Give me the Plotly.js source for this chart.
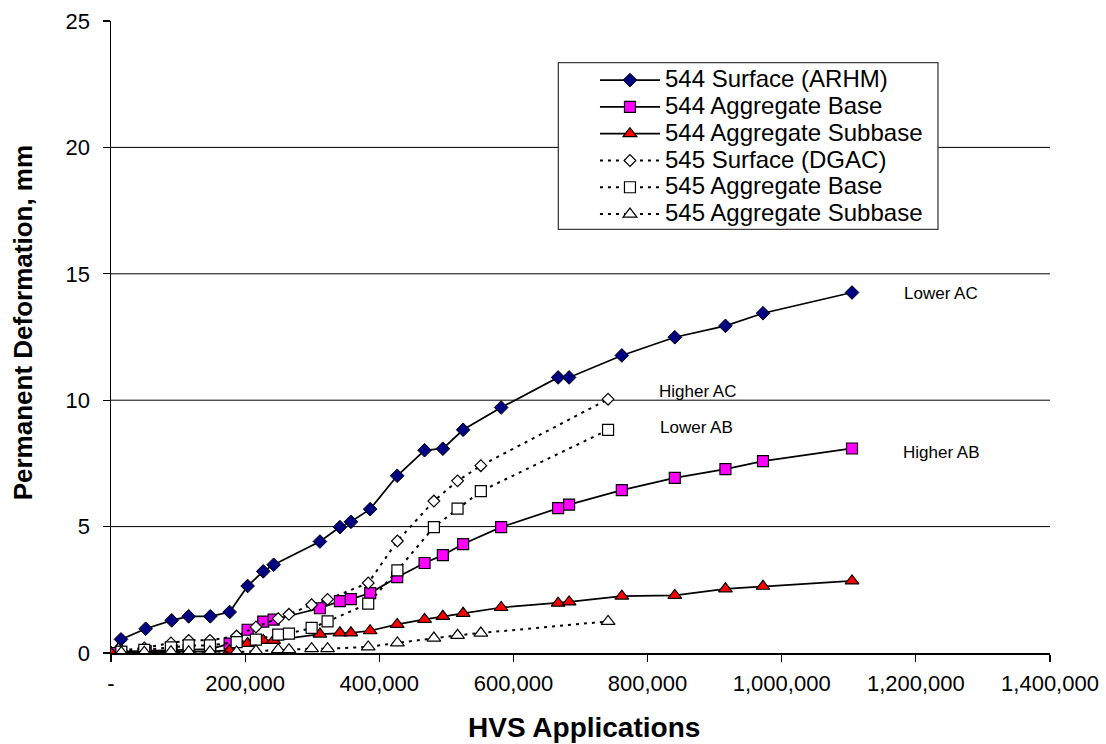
<!DOCTYPE html>
<html>
<head>
<meta charset="utf-8">
<script src="https://cdn.plot.ly/plotly-3.0.1.min.js"></script>
<style>html,body{margin:0;padding:0;background:#fff;}#chart{width:1106px;height:744px;}</style>
</head>
<body>
<div id="chart"></div>
<script>
// HVS applications (x) and permanent deformation, mm (y)
var x544 = [0, 14900, 51700, 90500, 115800, 148000, 176900, 203700, 227000, 242500, 311500, 341300, 357700, 386400, 426700, 467500, 494800, 525000, 581700, 666600, 683000, 761600, 840600, 916100, 972100, 1104800];
var surf544 = [0, 0.54, 0.96, 1.29, 1.45, 1.45, 1.62, 2.65, 3.23, 3.49, 4.41, 4.98, 5.19, 5.69, 7.01, 8.02, 8.08, 8.83, 9.71, 10.90, 10.90, 11.77, 12.49, 12.94, 13.44, 14.26];
var base544 = [0, 0.05, 0.08, 0.10, 0.12, 0.15, 0.37, 0.92, 1.24, 1.32, 1.77, 2.05, 2.13, 2.37, 3.00, 3.56, 3.87, 4.31, 4.98, 5.73, 5.87, 6.44, 6.93, 7.27, 7.59, 8.09];
var sub544 = [0, 0.02, 0.03, 0.04, 0.05, 0.06, 0.10, 0.38, 0.50, 0.50, 0.75, 0.80, 0.80, 0.88, 1.13, 1.33, 1.45, 1.57, 1.80, 1.97, 2.02, 2.25, 2.28, 2.54, 2.64, 2.85];

var x545 = [15400, 49600, 89400, 115800, 147500, 187300, 216100, 249300, 265300, 299100, 322900, 383500, 427000, 481400, 516700, 551400, 741100];
var surf545 = [0.10, 0.20, 0.40, 0.50, 0.50, 0.67, 1.03, 1.36, 1.53, 1.91, 2.12, 2.77, 4.43, 6.01, 6.81, 7.41, 10.04];
var base545 = [0.05, 0.12, 0.22, 0.30, 0.30, 0.43, 0.53, 0.73, 0.77, 0.99, 1.25, 1.95, 3.27, 4.98, 5.71, 6.40, 8.83];
var sub545 = [0.02, 0.03, 0.05, 0.05, 0.05, 0.04, 0.08, 0.13, 0.13, 0.17, 0.17, 0.24, 0.40, 0.59, 0.70, 0.79, 1.25];

var seriesNames = ["544 Surface (ARHM)", "544 Aggregate Base", "544 Aggregate Subbase", "545 Surface (DGAC)", "545 Aggregate Base", "545 Aggregate Subbase"];

var xTickVals = [0, 200000, 400000, 600000, 800000, 1000000, 1200000, 1400000];
var xTickText = ["-", "200,000", "400,000", "600,000", "800,000", "1,000,000", "1,200,000", "1,400,000"];
var yTickVals = [0, 5, 10, 15, 20, 25];
var gridVals = [5, 10, 15, 20];

var xTitle = "HVS Applications";
var yTitle = "Permanent Deformation, mm";

var noteText = ["Lower AC", "Higher AC", "Lower AB", "Higher AB"];
var noteX = [1237000, 874800, 873300, 1238000];
var noteY = [14.22, 10.36, 8.93, 7.94];

var FONT = "Arial, 'Liberation Sans', sans-serif";
var solid = {color: "#000", width: 1.75};
var dotted = {color: "#000", width: 2, dash: "3px,5px"};

function legendName(s) { return '<span style="font-size:24px">' + s + '</span>'; }

var traces = [
  {x: x544, y: surf544, name: legendName(seriesNames[0]), mode: "lines+markers", line: solid,
   marker: {symbol: "diamond", size: 10.5, color: "#000080", line: {color: "#000", width: 1}}},
  {x: x544, y: base544, name: legendName(seriesNames[1]), mode: "lines+markers", line: solid,
   marker: {symbol: "square", size: 11, color: "#FF00FF", line: {color: "#000", width: 1.2}}},
  {x: x544, y: sub544, name: legendName(seriesNames[2]), mode: "lines+markers", line: solid,
   marker: {symbol: "triangle-up", size: 12, color: "#FF0000", line: {color: "#000", width: 1.2}}},
  {x: x545, y: surf545, name: legendName(seriesNames[3]), mode: "lines+markers", line: dotted,
   marker: {symbol: "diamond", size: 9, color: "#FFFFFF", line: {color: "#000", width: 1.2}}},
  {x: x545, y: base545, name: legendName(seriesNames[4]), mode: "lines+markers", line: dotted,
   marker: {symbol: "square", size: 11, color: "#FFFFFF", line: {color: "#000", width: 1.2}}},
  {x: x545, y: sub545, name: legendName(seriesNames[5]), mode: "lines+markers", line: dotted,
   marker: {symbol: "triangle-up", size: 12, color: "#FFFFFF", line: {color: "#000", width: 1.2}}}
];

var shapes = gridVals.map(function(v){
  return {type: "line", xref: "paper", yref: "y", x0: 0, x1: 1, y0: v, y1: v, line: {color: "#000", width: 1}, layer: "below"};
});
// legend frame
shapes.push({type: "rect", xref: "paper", yref: "paper", x0: 0.4764, x1: 0.8807, y0: 0.6704, y1: 0.9342,
             line: {color: "#404040", width: 1.3}, fillcolor: "#fff", layer: "below"});

var annotations = noteText.map(function(t, i){
  return {x: noteX[i], y: noteY[i], xref: "x", yref: "y", text: t, showarrow: false,
          font: {family: FONT, size: 17, color: "#000"}, xanchor: "center", yanchor: "middle"};
});
annotations.push({x: 0.5037, y: -0.1184, xref: "paper", yref: "paper", text: "<b>" + xTitle + "</b>", showarrow: false,
                  font: {family: FONT, size: 28, color: "#000"}, xanchor: "center", yanchor: "middle"});
annotations.push({x: -0.0937, y: 0.5217, xref: "paper", yref: "paper", text: "<b>" + yTitle + "</b>", showarrow: false,
                  textangle: -90, font: {family: FONT, size: 26, color: "#000"}, xanchor: "center", yanchor: "middle"});

var layout = {
  width: 1106, height: 744,
  paper_bgcolor: "#fff", plot_bgcolor: "#fff",
  margin: {l: 111, r: 56, t: 21, b: 91},
  font: {family: FONT, color: "#000"},
  showlegend: true,
  legend: {
    x: 0.5154, y: 0.9356, xanchor: "left", yanchor: "top",
    bgcolor: "rgba(0,0,0,0)", borderwidth: 0,
    font: {family: FONT, size: 18.3, color: "#000"},
    itemwidth: 60, tracegroupgap: 0
  },
  xaxis: {
    range: [0, 1400000], tickvals: xTickVals, ticktext: xTickText,
    showgrid: false, zeroline: false, showline: true, linecolor: "#000", linewidth: 1.5,
    ticks: "outside", ticklen: 7, tickcolor: "#000", tickwidth: 1.2,
    ticklabelstandoff: 3,
    tickfont: {family: FONT, size: 22, color: "#000"},
    automargin: false
  },
  yaxis: {
    range: [0, 25], tickvals: yTickVals,
    showgrid: false, zeroline: false, showline: true, linecolor: "#000", linewidth: 1.5,
    ticks: "outside", ticklen: 7, tickcolor: "#000", tickwidth: 1.2,
    ticklabelstandoff: 8,
    tickfont: {family: FONT, size: 22, color: "#000"},
    automargin: false
  },
  shapes: shapes,
  annotations: annotations
};

Plotly.newPlot("chart", traces, layout, {displayModeBar: false, staticPlot: true});
</script>
</body>
</html>
